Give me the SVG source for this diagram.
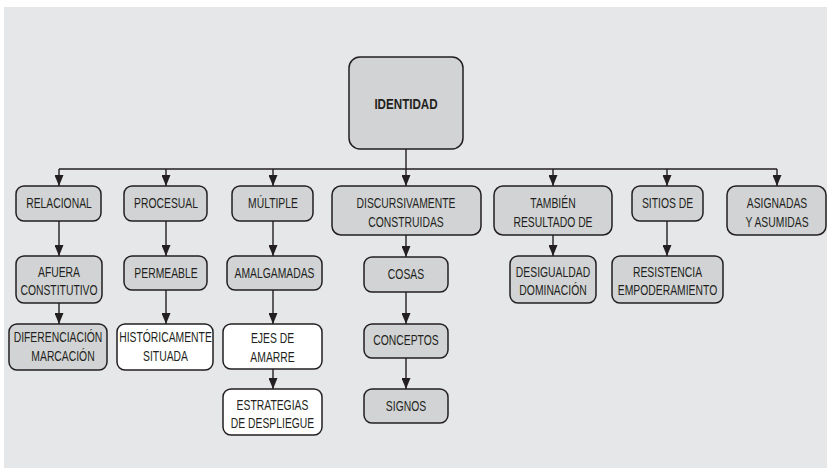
<svg xmlns="http://www.w3.org/2000/svg" width="827" height="468" viewBox="0 0 827 468">
<style>
.bx{fill:#d1d3d4;stroke:#231f20;stroke-width:1.5}
.wb{fill:#ffffff;stroke:#231f20;stroke-width:1.5}
.t{font-family:"Liberation Sans",Arial,sans-serif;font-size:14.5px;fill:#231f20;text-anchor:middle}
.tb{font-family:"Liberation Sans",Arial,sans-serif;font-size:15.5px;font-weight:bold;fill:#231f20;text-anchor:middle}
.ln{fill:none;stroke:#231f20;stroke-width:1.4}
</style>
<defs>
<marker id="ah" markerUnits="userSpaceOnUse" markerWidth="11" markerHeight="9" refX="11" refY="4.5" orient="auto">
<path d="M0,0 L11,4.5 L0,9 z" fill="#231f20"/>
</marker>
</defs>
<rect x="0" y="0" width="827" height="468" fill="#ffffff"/>
<rect x="4" y="7" width="823" height="461" fill="#e6e7e8"/>

<g id="connectors">
<line class="ln" x1="59" y1="169" x2="777" y2="169"/>
<line class="ln" x1="406" y1="149" x2="406" y2="186" marker-end="url(#ah)"/>
<line class="ln" x1="59" y1="169" x2="59" y2="186" marker-end="url(#ah)"/>
<line class="ln" x1="166" y1="169" x2="166" y2="186" marker-end="url(#ah)"/>
<line class="ln" x1="273" y1="169" x2="273" y2="186" marker-end="url(#ah)"/>
<line class="ln" x1="553" y1="169" x2="553" y2="186" marker-end="url(#ah)"/>
<line class="ln" x1="667" y1="169" x2="667" y2="186" marker-end="url(#ah)"/>
<line class="ln" x1="777" y1="169" x2="777" y2="186" marker-end="url(#ah)"/>
<line class="ln" x1="59" y1="221" x2="59" y2="256" marker-end="url(#ah)"/>
<line class="ln" x1="166" y1="221" x2="166" y2="256" marker-end="url(#ah)"/>
<line class="ln" x1="273" y1="221" x2="273" y2="256" marker-end="url(#ah)"/>
<line class="ln" x1="406" y1="235" x2="406" y2="257" marker-end="url(#ah)"/>
<line class="ln" x1="553" y1="235" x2="553" y2="256" marker-end="url(#ah)"/>
<line class="ln" x1="667" y1="221" x2="667" y2="256" marker-end="url(#ah)"/>
<line class="ln" x1="59" y1="303" x2="59" y2="324" marker-end="url(#ah)"/>
<line class="ln" x1="166" y1="290" x2="166" y2="324" marker-end="url(#ah)"/>
<line class="ln" x1="273" y1="290" x2="273" y2="324" marker-end="url(#ah)"/>
<line class="ln" x1="406" y1="292" x2="406" y2="324" marker-end="url(#ah)"/>
<line class="ln" x1="273" y1="369" x2="273" y2="389" marker-end="url(#ah)"/>
<line class="ln" x1="406" y1="358" x2="406" y2="389" marker-end="url(#ah)"/>
</g>

<g id="identidad">
<rect class="bx" x="349" y="57" width="114" height="92" rx="11"/>
<text class="tb" transform="translate(406 109) scale(0.75 1)">IDENTIDAD</text>
</g>

<g id="relacional">
<rect class="bx" x="16" y="186" width="85" height="35" rx="8"/>
<text class="t" transform="translate(59 208) scale(0.715 1)">RELACIONAL</text>
</g>
<g id="procesual">
<rect class="bx" x="124" y="186" width="83" height="35" rx="8"/>
<text class="t" transform="translate(166 208) scale(0.715 1)">PROCESUAL</text>
</g>
<g id="multiple">
<rect class="bx" x="232" y="186" width="81" height="35" rx="8"/>
<text class="t" transform="translate(273 208) scale(0.715 1)">MÚLTIPLE</text>
</g>
<g id="discursivamente">
<rect class="bx" x="332" y="186" width="149" height="49" rx="9"/>
<text class="t" transform="translate(406 208) scale(0.715 1)">DISCURSIVAMENTE</text>
<text class="t" transform="translate(406 227) scale(0.715 1)">CONSTRUIDAS</text>
</g>
<g id="tambien">
<rect class="bx" x="494" y="186" width="118" height="49" rx="9"/>
<text class="t" transform="translate(553 208) scale(0.715 1)">TAMBIÉN</text>
<text class="t" transform="translate(553 227) scale(0.715 1)">RESULTADO DE</text>
</g>
<g id="sitios">
<rect class="bx" x="632" y="186" width="71" height="35" rx="8"/>
<text class="t" transform="translate(667.5 208) scale(0.715 1)">SITIOS DE</text>
</g>
<g id="asignadas">
<rect class="bx" x="727" y="186" width="99" height="49" rx="9"/>
<text class="t" transform="translate(777 208) scale(0.715 1)">ASIGNADAS</text>
<text class="t" transform="translate(777 227) scale(0.715 1)">Y ASUMIDAS</text>
</g>

<g id="afuera">
<rect class="bx" x="16" y="256" width="86" height="47" rx="8"/>
<text class="t" transform="translate(59 277) scale(0.715 1)">AFUERA</text>
<text class="t" transform="translate(59 295) scale(0.715 1)">CONSTITUTIVO</text>
</g>
<g id="permeable">
<rect class="bx" x="124" y="256" width="83" height="34" rx="8"/>
<text class="t" transform="translate(166 278) scale(0.715 1)">PERMEABLE</text>
</g>
<g id="amalgamadas">
<rect class="bx" x="227" y="256" width="95" height="34" rx="8"/>
<text class="t" transform="translate(274.5 278) scale(0.715 1)">AMALGAMADAS</text>
</g>
<g id="cosas">
<rect class="bx" x="364" y="257" width="84" height="35" rx="8"/>
<text class="t" transform="translate(406 279) scale(0.715 1)">COSAS</text>
</g>
<g id="desigualdad">
<rect class="bx" x="510" y="256" width="86" height="47" rx="8"/>
<text class="t" transform="translate(553 277) scale(0.715 1)">DESIGUALDAD</text>
<text class="t" transform="translate(553 295) scale(0.715 1)">DOMINACIÓN</text>
</g>
<g id="resistencia">
<rect class="bx" x="612" y="256" width="111" height="47" rx="8"/>
<text class="t" transform="translate(667.5 277) scale(0.715 1)">RESISTENCIA</text>
<text class="t" transform="translate(667.5 295) scale(0.715 1)">EMPODERAMIENTO</text>
</g>

<g id="diferenciacion">
<rect class="bx" x="9" y="324" width="98" height="46" rx="8"/>
<text class="t" transform="translate(58 342) scale(0.715 1)">DIFERENCIACIÓN</text>
<text class="t" transform="translate(63 361) scale(0.715 1)">MARCACIÓN</text>
</g>
<g id="historicamente">
<rect class="wb" x="117" y="324" width="96" height="46" rx="8"/>
<text class="t" transform="translate(165.5 342) scale(0.715 1)">HISTÓRICAMENTE</text>
<text class="t" transform="translate(165.5 361) scale(0.715 1)">SITUADA</text>
</g>
<g id="ejes">
<rect class="wb" x="223" y="324" width="99" height="45" rx="8"/>
<text class="t" transform="translate(272.5 343) scale(0.715 1)">EJES DE</text>
<text class="t" transform="translate(272.5 362) scale(0.715 1)">AMARRE</text>
</g>
<g id="conceptos">
<rect class="bx" x="364" y="324" width="84" height="34" rx="8"/>
<text class="t" transform="translate(406 345) scale(0.715 1)">CONCEPTOS</text>
</g>

<g id="estrategias">
<rect class="wb" x="223" y="389" width="99" height="46" rx="8"/>
<text class="t" transform="translate(272.5 410) scale(0.715 1)">ESTRATEGIAS</text>
<text class="t" transform="translate(272.5 428) scale(0.715 1)">DE DESPLIEGUE</text>
</g>
<g id="signos">
<rect class="bx" x="364" y="389" width="84" height="34" rx="8"/>
<text class="t" transform="translate(406 411) scale(0.715 1)">SIGNOS</text>
</g>
</svg>
